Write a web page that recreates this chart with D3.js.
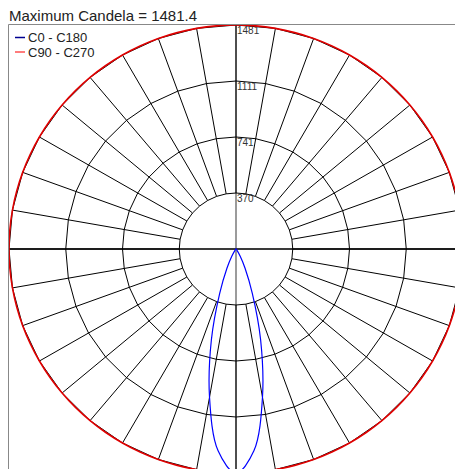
<!DOCTYPE html>
<html>
<head>
<meta charset="utf-8">
<script src="https://cdn.jsdelivr.net/npm/d3@7"></script>
<style>
  html, body { margin: 0; padding: 0; background: #fff; }
  svg { display: block; }
  text { font-family: "Liberation Sans", Arial, sans-serif; }
</style>
</head>
<body>
<svg id="chart" width="455" height="469"></svg>
<script>
// ---- data ----
const title = "Maximum Candela = 1481.4";
const maxCandela = 1481.4;
const seriesNames = ["C0 - C180", "C90 - C270"];
// gamma angles (deg from nadir)
const gammaAngles = [0,5,10,15,20,25,30,35,40,45,50,55,60,65,70,75,80,85,90,95,100,105,110,115,120,125,130,135,140,145,150,155,160,165,170,175,180];
const c0Values   = [1481.4,1340,995,620,310,140,55,15,4,0,0,0,0,0,0,0,0,0,0,0,0,0,0,0,0,0,0,0,0,0,0,0,0,0,0,0,0];
const c180Values = [1481.4,1340,995,620,310,140,55,15,4,0,0,0,0,0,0,0,0,0,0,0,0,0,0,0,0,0,0,0,0,0,0,0,0,0,0,0,0];
const c90Values  = [1481.4,1481.4,1481.4,1481.4,1481.4,1481.4,1481.4,1481.4,1481.4,1481.4,1481.4,1481.4,1481.4,1481.4,1481.4,1481.4,1481.4,1481.4,1481.4,1481.4,1481.4,1481.4,1481.4,1481.4,1481.4,1481.4,1481.4,1481.4,1481.4,1481.4,1481.4,1481.4,1481.4,1481.4,1481.4,1481.4,1481.4];
const c270Values = [1481.4,1481.4,1481.4,1481.4,1481.4,1481.4,1481.4,1481.4,1481.4,1481.4,1481.4,1481.4,1481.4,1481.4,1481.4,1481.4,1481.4,1481.4,1481.4,1481.4,1481.4,1481.4,1481.4,1481.4,1481.4,1481.4,1481.4,1481.4,1481.4,1481.4,1481.4,1481.4,1481.4,1481.4,1481.4,1481.4,1481.4];
const ringValues = [370.35, 740.7, 1111.05, 1481.4];
const ringLabels = ["370", "741", "1111", "1481"];
const spokeAngles = [0,10,20,30,40,50,60,70,80,90,100,110,120,130,140,150,160,170,180,190,200,210,220,230,240,250,260,270,280,290,300,310,320,330,340,350];
const seriesColors = ["#0000ff", "#e00000"];
const legendColors = ["#000090", "#ff5050"];

// ---- layout ----
const W = 455, H = 469;
const cx = 236, cy = 249;
const frameL = 8.5, frameT = 24.5;
const rx = 227, ry = 224;

const svg = d3.select("#chart");
const sx = d3.scaleLinear().domain([0, maxCandela]).range([0, rx]);
const sy = d3.scaleLinear().domain([0, maxCandela]).range([0, ry]);
const rad = d => d * Math.PI / 180;
// angle measured from nadir (down), clockwise toward +x
function pt(angleDeg, v) {
  return [cx + sx(v) * Math.sin(rad(angleDeg)), cy + sy(v) * Math.cos(rad(angleDeg))];
}

svg.append("defs").append("clipPath").attr("id", "plotclip")
  .append("rect").attr("x", frameL).attr("y", frameT).attr("width", W - frameL).attr("height", H - frameT);

const g = svg.append("g").attr("clip-path", "url(#plotclip)");

// axes
g.append("line").attr("x1", cx).attr("x2", cx).attr("y1", frameT).attr("y2", H)
  .attr("stroke", "#7a7a7a").attr("stroke-width", 1.5);
g.append("line").attr("x1", frameL).attr("x2", W).attr("y1", cy).attr("y2", cy)
  .attr("stroke", "#3a3a3a").attr("stroke-width", 2);

// spokes
g.selectAll("line.spoke").data(spokeAngles).join("line")
  .attr("class", "spoke")
  .attr("x1", d => pt(d, ringValues[0])[0]).attr("y1", d => pt(d, ringValues[0])[1])
  .attr("x2", d => pt(d, maxCandela)[0]).attr("y2", d => pt(d, maxCandela)[1])
  .attr("stroke", "#000").attr("stroke-width", 1);

// rings (polygons through spoke points)
const ringLine = d3.line().curve(d3.curveLinearClosed);
g.selectAll("path.ring").data(ringValues).join("path")
  .attr("class", "ring")
  .attr("d", v => ringLine(spokeAngles.map(a => pt(a, v))))
  .attr("fill", "none").attr("stroke", "#000").attr("stroke-width", 1);

// ring labels
g.selectAll("text.rl").data(ringValues).join("text")
  .attr("class", "rl")
  .attr("x", cx + 1).attr("y", v => cy - sy(v) + 9)
  .attr("font-size", 10).attr("fill", "#333")
  .text((v, i) => ringLabels[i]);

// series curves
const curve = d3.line().curve(d3.curveCatmullRomClosed.alpha(0.5));
function closedPoints(rightVals, leftVals) {
  const pts = [];
  gammaAngles.forEach((a, i) => pts.push(pt(a, rightVals[i])));
  for (let i = gammaAngles.length - 2; i >= 1; i--) pts.push(pt(-gammaAngles[i], leftVals[i]));
  return pts;
}
g.append("path").attr("d", curve(closedPoints(c90Values, c270Values)))
  .attr("fill", "none").attr("stroke", seriesColors[1]).attr("stroke-width", 1.6);
g.append("path").attr("d", curve(closedPoints(c0Values, c180Values)))
  .attr("fill", "none").attr("stroke", seriesColors[0]).attr("stroke-width", 1.2);

// frame
svg.append("line").attr("x1", frameL).attr("x2", frameL).attr("y1", frameT).attr("y2", H)
  .attr("stroke", "#888").attr("stroke-width", 1);
svg.append("line").attr("x1", frameL).attr("x2", W).attr("y1", frameT).attr("y2", frameT)
  .attr("stroke", "#888").attr("stroke-width", 1);

// title
svg.append("text").attr("x", 9).attr("y", 20.5).attr("font-size", 15).attr("fill", "#222").text(title);

// legend
const lg = svg.append("g");
seriesNames.forEach((name, i) => {
  const y = 37.5 + i * 14.5;
  lg.append("line").attr("x1", 15).attr("x2", 25).attr("y1", y).attr("y2", y)
    .attr("stroke", legendColors[i]).attr("stroke-width", 1.5);
  lg.append("text").attr("x", 28).attr("y", y + 4.7).attr("font-size", 13).attr("fill", "#222").text(name);
});
</script>
</body>
</html>
